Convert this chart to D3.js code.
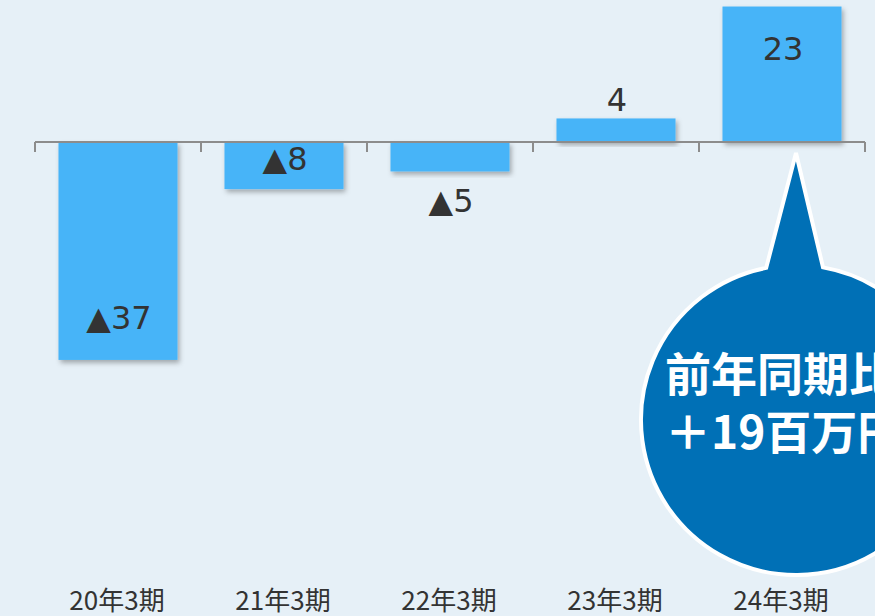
<!DOCTYPE html>
<html>
<head>
<meta charset="utf-8">
<script src="https://cdn.jsdelivr.net/npm/d3@7"></script>
<style>
  html, body { margin: 0; padding: 0; background: #e6f0f7; overflow: hidden; }
  svg { display: block; }
</style>
</head>
<body>
<svg id="chart" width="875" height="616"></svg>
<script>
// chart data
const categories = ['20年3期', '21年3期', '22年3期', '23年3期', '24年3期'];
const values = [-37, -8, -5, 4, 23];
const calloutLines = ['前年同期比', '＋19百万円'];

const W = 875, H = 616;
const svg = d3.select('#chart');

// x band: ticks at 35 .. 865
const x = d3.scaleBand()
  .domain(categories)
  .range([35, 865])
  .paddingInner(0.283)
  .paddingOuter(0.1415);

// y: zero line at 142, ~5.89 px per unit
const pxPerUnit = 5.89;
const zeroY = 142;
const y = d3.scaleLinear()
  .domain([-40, 25])
  .range([zeroY + 40 * pxPerUnit, zeroY - 25 * pxPerUnit]);

svg.append('rect')
  .attr('width', W).attr('height', H)
  .attr('fill', '#e6f0f7');

const defs = svg.append('defs');
defs.append('filter')
  .attr('id', 'shadow')
  .attr('x', '-10%').attr('y', '-10%')
  .attr('width', '130%').attr('height', '130%')
.append('feDropShadow')
  .attr('dx', 2).attr('dy', 3)
  .attr('stdDeviation', 2.5)
  .attr('flood-color', '#000')
  .attr('flood-opacity', 0.3);

// bars
svg.append('g')
  .selectAll('rect')
  .data(values)
  .join('rect')
    .attr('x', (d, i) => x(categories[i]))
    .attr('width', x.bandwidth())
    .attr('y', d => y(Math.max(0, d)))
    .attr('height', d => Math.abs(y(d) - y(0)))
    .attr('fill', '#47b4f8')
    .attr('filter', 'url(#shadow)');

// axis along zero with downward ticks at band edges
const axisG = svg.append('g');
axisG.append('line')
  .attr('x1', 35).attr('x2', 865)
  .attr('y1', y(0)).attr('y2', y(0))
  .attr('stroke', '#8c8c8c').attr('stroke-width', 2);

const tickXs = categories.map(c => x(c) - x.step() * x.paddingInner() / 2);
tickXs.push(865);
axisG.selectAll('line.tick')
  .data(tickXs)
  .join('line')
    .attr('class', 'tick')
    .attr('x1', d => d).attr('x2', d => d)
    .attr('y1', y(0)).attr('y2', y(0) + 10)
    .attr('stroke', '#8c8c8c').attr('stroke-width', 2);

// value labels
const capH = 23;
function fmt(v) { return v < 0 ? '▲' + Math.abs(v) : String(v); }
svg.append('g')
  .selectAll('text')
  .data(values)
  .join('text')
    .attr('x', (d, i) => x(categories[i]) + x.bandwidth() / 2 + 1)
    .attr('y', d => {
      const end = y(d);
      const h = Math.abs(end - y(0));
      if (Math.abs(d) >= 8) {
        const off = Math.min(42, h * 0.66);
        const mid = d > 0 ? end + off : end - off;
        return mid + capH / 2;
      }
      return d > 0 ? end - 7 : end + 18 + capH;
    })
    .attr('text-anchor', 'middle')
    .attr('font-family', '"DejaVu Sans", Verdana, sans-serif')
    .attr('font-size', 32)
    .attr('fill', '#333333')
    .text(d => fmt(d));

// category labels
svg.append('g')
  .selectAll('text')
  .data(categories)
  .join('text')
    .attr('x', d => x(d) + x.bandwidth() / 2 - 1)
    .attr('y', 610)
    .attr('text-anchor', 'middle')
    .attr('font-family', '"Noto Sans CJK JP", sans-serif')
    .attr('font-size', 26)
    .attr('fill', '#333333')
    .text(d => d);

// callout bubble pointing to last bar
const last = categories[categories.length - 1];
const cx = x(last) + x.bandwidth() / 2 + 14;
const cy = 420, r = 155;
const apex = [cx, 153];
const baseL = [cx - 29, 272];
const baseR = [cx + 26, 273];

const angL = Math.atan2(baseL[1] - cy, baseL[0] - cx);
const angR = Math.atan2(baseR[1] - cy, baseR[0] - cx);
const pR = [cx + r * Math.cos(angR), cy + r * Math.sin(angR)];

const bubble = d3.path();
bubble.moveTo(apex[0], apex[1]);
bubble.lineTo(pR[0], pR[1]);
bubble.arc(cx, cy, r, angR, angL + 2 * Math.PI);
bubble.lineTo(apex[0], apex[1]);
bubble.closePath();

svg.append('path')
  .attr('d', bubble.toString())
  .attr('fill', '#0070b6')
  .attr('stroke', '#ffffff')
  .attr('stroke-width', 4)
  .attr('stroke-linejoin', 'miter');

svg.append('g')
  .selectAll('text')
  .data(calloutLines)
  .join('text')
    .attr('x', 665)
    .attr('y', (d, i) => 391 + i * 58)
    .attr('font-family', '"Noto Sans CJK JP", sans-serif')
    .attr('font-weight', 'bold')
    .attr('font-size', 46)
    .attr('fill', '#ffffff')
    .text(d => d);
</script>
</body>
</html>
